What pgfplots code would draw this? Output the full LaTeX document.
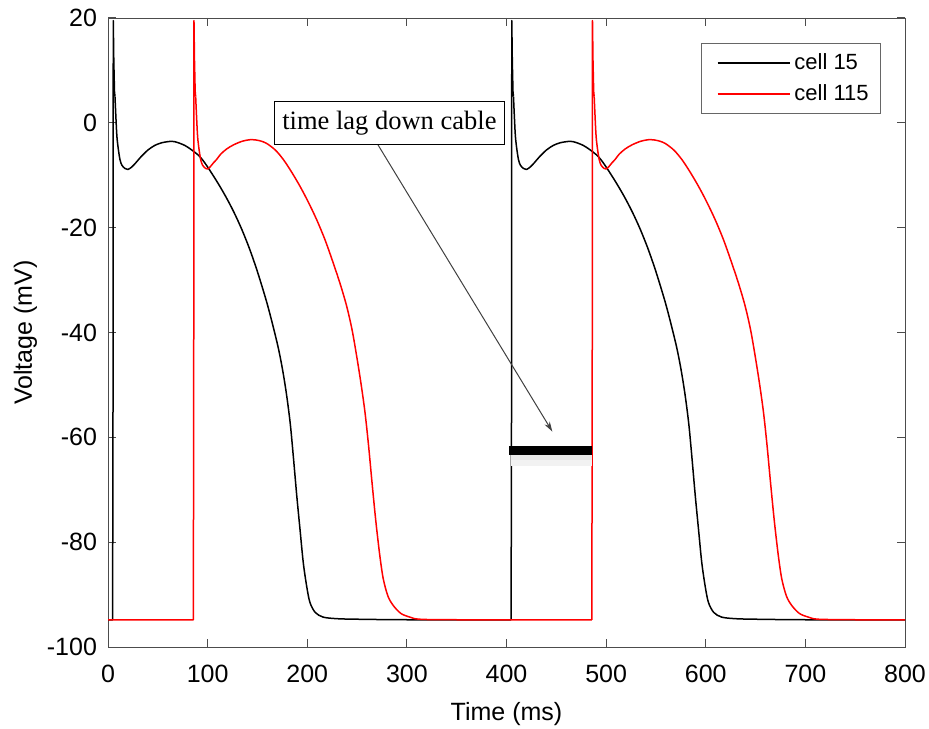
\documentclass[border=0pt]{standalone}
\usepackage{fontspec}
\setmainfont{Liberation Sans}
\newfontfamily\timesfont{Liberation Serif}
\usepackage{pgfplots}
\pgfplotsset{compat=1.18}
\usetikzlibrary{arrows.meta}

\begin{document}
\begin{tikzpicture}
\begin{axis}[
  name=ax,
  scale only axis,
  width=398.5pt, height=314.5pt,
  xmin=0, xmax=800, ymin=-100, ymax=20,
  xtick distance=100, ytick distance=20,
  tick align=inside,
  axis line style={black!70},
  major tick style={black!70, line width=0.5pt},
  major tick length=4pt,
  /pgf/number format/assume math mode=true,
  tick label style={font=\fontsize{12.5}{15}\selectfont},
  xticklabel style={yshift=-5.5pt},
  yticklabel style={xshift=-2pt},
  label style={font=\fontsize{12.5}{15}\selectfont},
  xlabel={Time (ms)}, xlabel shift=3pt,
  ylabel={Voltage (mV)}, ylabel shift=-2pt,
  legend style={at={(1,1)}, anchor=north east, xshift=-12pt, yshift=-12.5pt,
    draw=black!60, font=\fontsize{11}{13}\selectfont,
    inner xsep=4pt, inner ysep=3pt, row sep=2pt, cells={anchor=west}},
  legend image code/.code={\path (0pt,0pt); \draw[#1] (4pt,0pt) -- (40pt,0pt);},
  cell15/.style={black, line width=0.75pt, line join=round},
  cell115/.style={red, line width=0.75pt, line join=round},
]
% cell 15, first beat
\addplot[cell15] coordinates {
 (0,-94.8) (4.6,-94.8) (5.0,-60) (5.3,19.5) (5.8,12) (6.5,6) (7,5)};
\addlegendentry{cell 15}
\addplot[cell15, smooth, tension=0.5, forget plot] coordinates {
 (7,5) (8.7,-1.9)
 (10,-4.5) (12,-7) (14,-8.1) (17,-8.7) (20,-8.9) (24,-8.4) (28,-7.6) (33,-6.5)
 (40,-5.2) (47,-4.3) (54,-3.8) (62,-3.55) (67,-3.6) (72,-3.9) (77,-4.3) (82,-4.9)
 (87,-5.6) (92,-6.4) (97,-7.6) (102,-9.0) (110,-11.4) (118,-14.0) (126,-16.9)
 (134,-20.2) (142,-24.0) (150,-28.4) (159,-34.0) (165,-38.3) (171,-43.0)
 (175.5,-47.4) (179.4,-52.1) (183,-57.5) (186,-63.6) (189.5,-71.2)
 (192.7,-77.5) (196,-83.9) (199.5,-88.5) (202.7,-91.5) (208,-93.4) (216,-94.3)
 (230,-94.6) (250,-94.7) (300,-94.8) (404.6,-94.8)};
% cell 15, second beat
\addplot[cell15, forget plot] coordinates {
 (404.6,-94.8) (405.0,-60) (405.3,19.5) (405.8,12) (406.5,6) (407,5)};
\addplot[cell15, smooth, tension=0.5, forget plot] coordinates {
 (407,5) (408.7,-1.9)
 (410,-4.5) (412,-7) (414,-8.1) (417,-8.7) (420,-8.9) (424,-8.4) (428,-7.6) (433,-6.5)
 (440,-5.2) (447,-4.3) (454,-3.8) (462,-3.55) (467,-3.6) (472,-3.9) (477,-4.3) (482,-4.9)
 (487,-5.6) (492,-6.4) (497,-7.6) (502,-9.0) (510,-11.4) (518,-14.0) (526,-16.9)
 (534,-20.2) (542,-24.0) (550,-28.4) (559,-34.0) (565,-38.3) (571,-43.0)
 (575.5,-47.4) (579.4,-52.1) (583,-57.5) (586,-63.6) (589.5,-71.2)
 (592.7,-77.5) (596,-83.9) (599.5,-88.5) (602.7,-91.5) (608,-93.4) (616,-94.3)
 (630,-94.6) (650,-94.7) (700,-94.8) (800,-94.8)};
% cell 115, first beat
\addplot[cell115] coordinates {
 (0,-94.8) (85.6,-94.8) (86.0,-60) (86.3,19.5) (86.8,12) (87.5,6) (88,5)};
\addlegendentry{cell 115}
\addplot[cell115, smooth, tension=0.5, forget plot] coordinates {
 (88,5) (89.7,-1.9)
 (91,-4.5) (93,-7) (95,-8.1) (98,-8.7) (100,-8.8) (103,-8.3) (106,-7.6) (109,-7.0)
 (113,-6.0) (119,-5.0) (126,-4.2) (135,-3.5) (144,-3.2) (152,-3.4) (159,-3.9)
 (168,-5.2) (176,-7.0) (184,-9.3) (192.7,-12.1) (201,-15.1) (209.5,-18.5)
 (218,-22.4) (226,-26.7) (233,-30.7) (239.6,-35) (245,-39.5) (249.6,-44.5)
 (254,-49.8) (258,-55.3) (261.5,-61.5) (264.7,-68) (267.5,-73.5) (269.7,-77.5)
 (273,-82.8) (276.3,-87) (281,-90.3) (286.4,-92.1) (294,-93.6) (303,-94.3)
 (313,-94.7) (350,-94.8) (485.6,-94.8)};
% cell 115, second beat
\addplot[cell115, forget plot] coordinates {
 (485.6,-94.8) (486.0,-60) (486.3,19.5) (486.8,12) (487.5,6) (488,5)};
\addplot[cell115, smooth, tension=0.5, forget plot] coordinates {
 (488,5) (489.7,-1.9)
 (491,-4.5) (493,-7) (495,-8.1) (498,-8.7) (500,-8.8) (503,-8.3) (506,-7.6) (509,-7.0)
 (513,-6.0) (519,-5.0) (526,-4.2) (535,-3.5) (544,-3.2) (552,-3.4) (559,-3.9)
 (568,-5.2) (576,-7.0) (584,-9.3) (592.7,-12.1) (601,-15.1) (609.5,-18.5)
 (618,-22.4) (626,-26.7) (633,-30.7) (639.6,-35) (645,-39.5) (649.6,-44.5)
 (654,-49.8) (658,-55.3) (661.5,-61.5) (664.7,-68) (667.5,-73.5) (669.7,-77.5)
 (673,-82.8) (676.3,-87) (681,-90.3) (686.4,-92.1) (694,-93.6) (703,-94.3)
 (713,-94.7) (750,-94.8) (800,-94.8)};
% lag bar with soft shadow
\addplot[black!5, line width=5pt, forget plot] coordinates {(405,-64.6) (486,-64.6)};
\addplot[black!9, line width=2.5pt, forget plot] coordinates {(405,-63.9) (486,-63.9)};
\addplot[black, line width=4.5pt, forget plot] coordinates {(403,-62.5) (486,-62.5)};
% annotation
\draw[-{Stealth[length=5pt,width=3pt]}, black!75, line width=0.5pt]
  (axis cs:271,-4.2) -- (axis cs:446,-58.9);
\node[draw=black, fill=white, line width=0.5pt,
  font=\timesfont\fontsize{13.25}{15}\selectfont,
  inner xsep=3.75pt, minimum height=21.5pt] at (axis cs:282.5,-0.1) {time lag down cable};
\end{axis}
\pgfresetboundingbox
\path[use as bounding box] ([shift={(-54pt,-40.5pt)}]ax.south west)
  rectangle ([shift={(12pt,9pt)}]ax.north east);
\end{tikzpicture}
\end{document}
